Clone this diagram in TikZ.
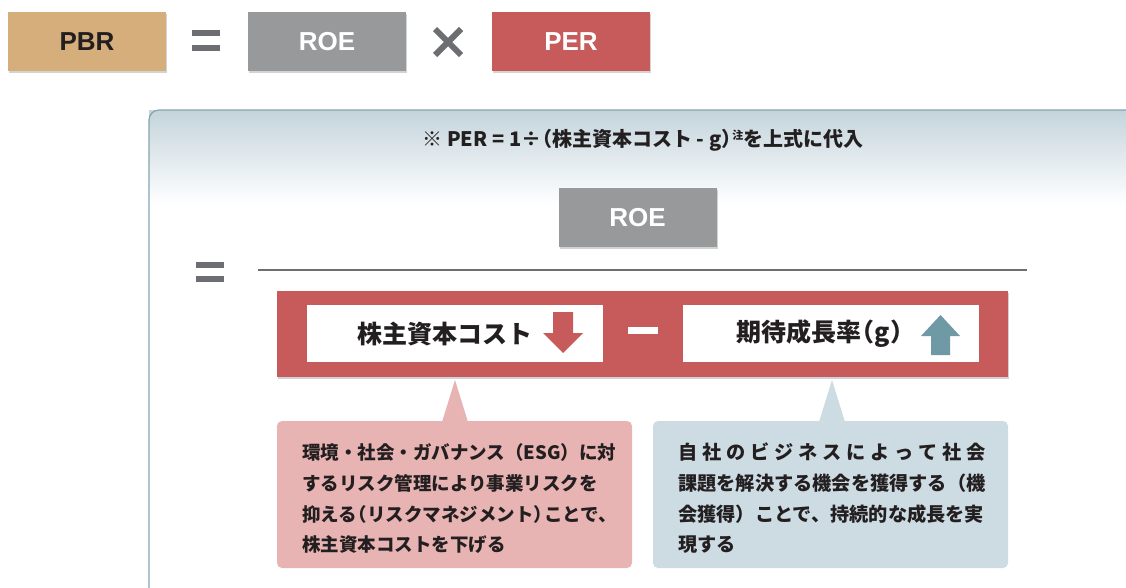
\documentclass[tikz,border=0pt]{standalone}
\usepackage{fontspec}
\setmainfont{Liberation Sans}
\newfontfamily\jp{Noto Sans CJK JP}
\usetikzlibrary{shadows}
\definecolor{tan}{HTML}{D6AE7B}
\definecolor{gbox}{HTML}{98999B}
\definecolor{rbox}{HTML}{C75A5B}
\definecolor{dgray}{HTML}{6D6E71}
\definecolor{pinkc}{HTML}{E8B4B3}
\definecolor{bluec}{HTML}{CDDCE3}
\definecolor{tealc}{HTML}{6F9AA5}
\definecolor{pborder}{HTML}{86A4AF}
\definecolor{ptop}{HTML}{C4D4DC}
\definecolor{txt}{HTML}{231F20}
\newcommand\lpr{\makebox[0.55em][r]{（}}
\newcommand\rpr{\makebox[0.55em][l]{）}}
\tikzset{
  sh/.style={drop shadow={opacity=0.35,shadow xshift=1pt,shadow yshift=-1.5pt}},
  topbox/.style={minimum width=158pt,minimum height=59pt,inner sep=0pt,sh,font=\fontsize{26}{26}\selectfont\bfseries},
  whitebox/.style={fill=white,minimum width=296pt,minimum height=57pt,inner sep=0pt},
  ctext/.style={anchor=west,inner sep=0pt,text=txt,font=\jp\bfseries\fontsize{18.5}{18.5}\selectfont},
  ctextb/.style={ctext,font=\jp\bfseries\fontsize{19.2}{19.2}\selectfont},
  opbar/.style={fill=dgray,draw=none},
}
\begin{document}
\begin{tikzpicture}[x=1pt,y=-1pt]
\useasboundingbox (0,0) rectangle (1126,587);
% top row
\node[topbox,fill=tan,text=txt] (pbr) at (87,41.5) {PBR};
\node[topbox,fill=gbox,text=white] (roe) at (327,41.5) {ROE};
\node[topbox,fill=rbox,text=white] (per) at (571,41.5) {PER};
\fill[opbar] (192,30) rectangle (220,36);
\fill[opbar] (192,45) rectangle (220,51);
\draw[dgray,line width=6pt] (435,29) -- (461,55) (461,29) -- (435,55);
% panel
\shade[top color=ptop,bottom color=white] (149,110) rectangle (1126,205);
\fill[white] (149,205) rectangle (1126,587);
\begin{scope}
\clip (0,0) rectangle (1126,587);
\draw[pborder,line width=1.2pt] (149,600) -- (149,120) arc[start angle=180,end angle=270,radius=10] -- (1140,110);
\end{scope}
\node[font=\jp\bfseries\fontsize{20}{20}\selectfont,text=txt,inner sep=0pt] (note) at (643,140)
 {※ PER = 1÷\lpr 株主資本コスト - g\rpr\raisebox{7pt}{\fontsize{11}{11}\selectfont 注}を上式に代入};
% fraction
\node[topbox,fill=gbox,text=white] (roe2) at (637.5,217.5) {ROE};
\fill[opbar] (196,262) rectangle (224,268);
\fill[opbar] (196,276) rectangle (224,282);
\draw[dgray,line width=2pt] (258,270) -- (1027,270);
% denominator
\node[fill=rbox,minimum width=731pt,minimum height=86pt,inner sep=0pt,sh] (den) at (642.5,334) {};
\node[whitebox] (cost) at (455,333.5) {};
\node[whitebox] (g) at (830.5,333.5) {};
\node[font=\jp\bfseries\fontsize{25}{25}\selectfont,text=txt,inner sep=0pt] (costt) at (445,333.5) {株主資本コスト};
\node[font=\jp\bfseries\fontsize{25}{25}\selectfont,text=txt,inner sep=0pt] (gt) at (820,333.5) {期待成長率\lpr g\rpr};
\fill[white] (628,327) rectangle (658,334);
\fill[rbox] (553,312) -- (573,312) -- (573,333) -- (583,333) -- (563,353) -- (543,333) -- (553,333) -- cycle;
\fill[tealc] (931,355) -- (950,355) -- (950,336) -- (960,336) -- (940.5,315) -- (921,336) -- (931,336) -- cycle;
% callouts
\fill[pinkc,rounded corners=5pt] (277,421) rectangle (632,568);
\fill[pinkc] (442,422) -- (455,380) -- (468,422) -- cycle;
\fill[bluec,rounded corners=5pt] (653,421) rectangle (1008,568);
\fill[bluec] (819,422) -- (832,380) -- (845,422) -- cycle;
\node[ctext] (a1) at (302,452) {環境・社会・ガバナンス（ESG）に対};
\node[ctext] (a2) at (302,483) {するリスク管理により事業リスクを};
\node[ctext] (a3) at (302,514) {抑える\lpr リスクマネジメント\rpr ことで、};
\node[ctext] (a4) at (302,545) {株主資本コストを下げる};
\node[ctextb] (b1) at (678,452) {\makebox[307pt][s]{自\hfill 社\hfill の\hfill ビ\hfill ジ\hfill ネ\hfill ス\hfill に\hfill よ\hfill っ\hfill て\hfill 社\hfill 会}};
\node[ctextb] (b2) at (678,483) {課題を解決する機会を獲得する（機};
\node[ctextb] (b3) at (678,514) {会獲得）ことで、持続的な成長を実};
\node[ctextb] (b4) at (678,545) {現する};
\end{tikzpicture}
\end{document}
